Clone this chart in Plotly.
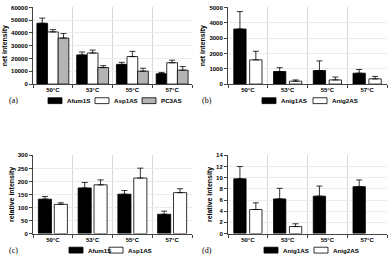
import plotly.graph_objects as go

categories = ["50°C", "53°C", "55°C", "57°C"]

# panel (a) net intensity
a_afum1s = [47600, 22800, 15400, 8100]
a_afum1s_err = [4000, 2300, 1600, 1000]
a_asp1as = [40800, 24300, 21500, 16700]
a_asp1as_err = [1800, 2300, 4100, 2000]
a_pc3as = [36000, 12900, 10100, 10900]
a_pc3as_err = [3500, 1500, 2300, 2800]

# panel (b) net intensity
b_anig1as = [3590, 820, 880, 710]
b_anig1as_err = [1140, 250, 630, 240]
b_anig2as = [1580, 190, 270, 340]
b_anig2as_err = [560, 80, 190, 160]

# panel (c) relative intensity
c_afum1s = [132, 175, 151, 74]
c_afum1s_err = [10, 21, 14, 12]
c_asp1as = [112, 187, 213, 157]
c_asp1as_err = [6, 19, 38, 15]

# panel (d) relative intensity
d_anig1as = [9.8, 6.2, 6.7, 8.4]
d_anig1as_err = [2.2, 1.9, 1.8, 1.2]
d_anig2as = [4.3, 1.25, None, None]
d_anig2as_err = [1.2, 0.5, None, None]

W, H = 390, 259
BLACK = "#000000"
WHITE = "#ffffff"
GRAY = "#b4b4b4"
GRID = "#d9d9d9"
FONT = "Liberation Sans"

xs = list(range(len(categories)))

fig = go.Figure()


def px_x(p):
    return p / W


def px_y(p):
    return 1 - p / H


legend_items = []  # (name, color, swatch-left px, y px)


def add_bar(name, vals, errs, color, xa, ya, width, sw_x, leg_y):
    fig.add_trace(go.Bar(
        x=xs, y=vals, name=name, width=width, showlegend=False,
        marker=dict(color=color, line=dict(color="#000000", width=0.8)),
        error_y=dict(type="data", array=errs, arrayminus=[0] * len(errs),
                     symmetric=False, color="#000000", thickness=0.8, width=3),
        xaxis=xa, yaxis=ya,
    ))
    legend_items.append((name, color, sw_x, leg_y))


add_bar("Afum1S", a_afum1s, a_afum1s_err, BLACK, "x", "y", 0.27, 48, 100)
add_bar("Asp1AS", a_asp1as, a_asp1as_err, WHITE, "x", "y", 0.27, 95, 100)
add_bar("PC3AS", a_pc3as, a_pc3as_err, GRAY, "x", "y", 0.27, 142, 100)

add_bar("Anig1AS", b_anig1as, b_anig1as_err, BLACK, "x2", "y2", 0.31, 262, 100)
add_bar("Anig2AS", b_anig2as, b_anig2as_err, WHITE, "x2", "y2", 0.31, 313, 100)

add_bar("Afum1S", c_afum1s, c_afum1s_err, BLACK, "x3", "y3", 0.33, 69, 253)
add_bar("Asp1AS", c_asp1as, c_asp1as_err, WHITE, "x3", "y3", 0.33, 109, 253)

add_bar("Anig1AS", d_anig1as, d_anig1as_err, BLACK, "x4", "y4", 0.31, 264, 253)
add_bar("Anig2AS", d_anig2as, d_anig2as_err, WHITE, "x4", "y4", 0.31, 314, 253)

# legend keys (swatch + label) drawn in paper coordinates
SW_W, SW_H = 14, 6
legfont = dict(family=FONT, size=6.2, color="#000", weight="bold")
for name, color, sx, sy in legend_items:
    fig.add_shape(type="rect", xref="paper", yref="paper",
                  x0=px_x(sx), x1=px_x(sx + SW_W),
                  y0=px_y(sy + SW_H / 2), y1=px_y(sy - SW_H / 2),
                  fillcolor=color, line=dict(color="#000", width=0.8))
    fig.add_annotation(text=name, x=px_x(sx + SW_W + 2.5), y=px_y(sy),
                       xref="paper", yref="paper", showarrow=False,
                       xanchor="left", yanchor="middle", font=legfont)

xdom_left = [px_x(33), px_x(192)]
xdom_right = [px_x(228), px_x(387)]
ydom_top = [px_y(83), px_y(4.5)]
ydom_bot = [px_y(236), px_y(156)]

tickfont = dict(family=FONT, size=6, color="#000", weight="bold")


def xaxis(dom, anchor):
    return dict(domain=dom, anchor=anchor, range=[-0.5, 3.5],
                tickvals=xs, ticktext=categories, ticks="", showgrid=False,
                showline=True, linecolor="#444", linewidth=1,
                tickfont=tickfont, zeroline=False,
                minor=dict(tick0=0.5, dtick=1, showgrid=True, gridcolor=GRID,
                           gridwidth=1, ticks="outside", ticklen=3, tickcolor="#444"),
                fixedrange=True)


def yaxis(dom, anchor, rng, dtick, title, standoff):
    return dict(domain=dom, anchor=anchor, range=rng, dtick=dtick, tickformat="d",
                showgrid=True, gridcolor="#ececec", gridwidth=1,
                showline=True, linecolor="#444", linewidth=1,
                ticks="outside", ticklen=3, tickcolor="#444",
                tickfont=tickfont, zeroline=False,
                title=dict(text=title, font=dict(family=FONT, size=7, color="#000", weight="bold"),
                           standoff=standoff),
                fixedrange=True)


fig.update_layout(
    width=W, height=H,
    margin=dict(l=0, r=0, t=0, b=0),
    paper_bgcolor="white", plot_bgcolor="white",
    barmode="group",
    bargap=0.2,
    showlegend=False,
    xaxis=xaxis(xdom_left, "y"),
    yaxis=yaxis(ydom_top, "x", [0, 60000], 10000, "net intensity", 2),
    xaxis2=xaxis(xdom_right, "y2"),
    yaxis2=yaxis(ydom_top, "x2", [0, 5000], 1000, "net intensity", 2),
    xaxis3=xaxis(xdom_left, "y3"),
    yaxis3=yaxis(ydom_bot, "x3", [0, 300], 50, "relative intensity", 2),
    xaxis4=xaxis(xdom_right, "y4"),
    yaxis4=yaxis(ydom_bot, "x4", [0, 14], 2, "relative intensity", 2),
)

labfont = dict(family="Liberation Serif", size=8, color="#000")
for txt, xp, yp in [("(a)", 13, 100), ("(b)", 207, 100), ("(c)", 14, 253), ("(d)", 207, 253)]:
    fig.add_annotation(text=txt, x=px_x(xp), y=px_y(yp), xref="paper", yref="paper",
                       showarrow=False, font=labfont, xanchor="center", yanchor="middle")

fig.write_html("out.html")
